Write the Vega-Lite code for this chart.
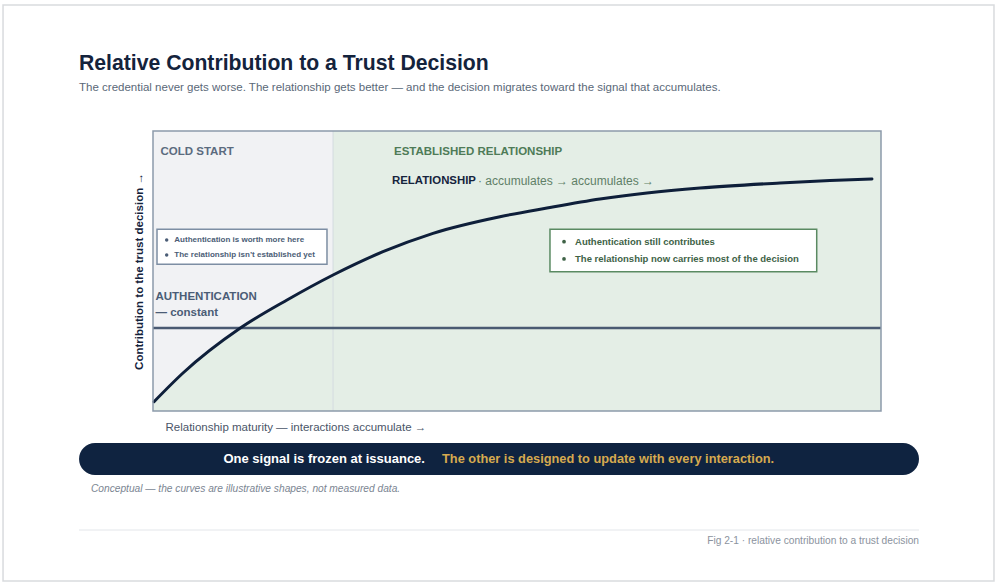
{
  "$schema": "https://vega.github.io/schema/vega-lite/v6.json",
  "width": 728,
  "height": 280,
  "autosize": {"type": "none"},
  "padding": {"left": 153, "top": 131, "right": 116, "bottom": 176},
  "background": "white",
  "config": {
    "font": "Liberation Sans",
    "view": {"stroke": null}
  },
  "encoding": {
    "x": {
      "field": "x",
      "type": "quantitative",
      "scale": {"domain": [0, 100], "nice": false, "zero": false},
      "axis": {
        "title": "Relationship maturity — interactions accumulate →",
        "domain": false, "ticks": false, "labels": false, "grid": false,
        "titleAnchor": "start", "titleAlign": "left", "titleX": 12,
        "titlePadding": 10, "titleFontSize": 11.5, "titleFontWeight": "normal",
        "titleColor": "#4a5568"
      }
    },
    "y": {
      "field": "y",
      "type": "quantitative",
      "scale": {"domain": [0, 100], "nice": false, "zero": false},
      "axis": {
        "title": "Contribution to the trust decision →",
        "domain": false, "ticks": false, "labels": false, "grid": false,
        "titlePadding": 9, "titleFontSize": 11.5, "titleFontWeight": "bold",
        "titleColor": "#14233c"
      }
    }
  },
  "layer": [
    {
      "data": {"values": [{"x": -20.6, "x2": 115.52, "y": 145, "y2": -60.71}]},
      "mark": {"type": "rect", "fillOpacity": 0, "stroke": "#d9dbde", "strokeWidth": 1.5},
      "encoding": {"x2": {"field": "x2"}, "y2": {"field": "y2"}}
    },
    {
      "data": {"values": [{"x": -10.16, "y": 123.9, "label": "Relative Contribution to a Trust Decision"}]},
      "mark": {"type": "text", "align": "left", "baseline": "middle", "fontSize": 21.2, "fontWeight": "bold", "color": "#14233c"},
      "encoding": {"text": {"field": "label"}}
    },
    {
      "data": {"values": [{"x": -10.16, "y": 115.2, "label": "The credential never gets worse. The relationship gets better — and the decision migrates toward the signal that accumulates."}]},
      "mark": {"type": "text", "align": "left", "baseline": "middle", "fontSize": 11.5, "color": "#5a6878"},
      "encoding": {"text": {"field": "label"}}
    },
    {
      "data": {"values": [
        {"zone": "cold", "x": 0, "x2": 24.73, "y": 0, "y2": 100},
        {"zone": "established", "x": 24.73, "x2": 100, "y": 0, "y2": 100}
      ]},
      "mark": {"type": "rect"},
      "encoding": {
        "x2": {"field": "x2"},
        "y2": {"field": "y2"},
        "color": {"field": "zone", "type": "nominal", "scale": {"domain": ["cold", "established"], "range": ["#f1f2f4", "#e4eee6"]}, "legend": null}
      }
    },
    {
      "data": {"name": "curve", "values": [
        {"x": 0.14, "y": 3.32}, {"x": 4.12, "y": 13.57}, {"x": 11.95, "y": 29.54},
        {"x": 18.41, "y": 39.64}, {"x": 24.73, "y": 48.57}, {"x": 31.59, "y": 56.89},
        {"x": 38.46, "y": 63.46}, {"x": 47.66, "y": 69.39}, {"x": 54.12, "y": 72.5},
        {"x": 61.4, "y": 75.71}, {"x": 67.86, "y": 77.86}, {"x": 75.14, "y": 79.64},
        {"x": 86.13, "y": 81.43}, {"x": 92.99, "y": 82.32}, {"x": 98.76, "y": 82.86}
      ]},
      "mark": {"type": "area", "interpolate": "monotone", "color": "#e4eee6"},
      "encoding": {"y2": {"datum": 0}}
    },
    {
      "data": {"values": [{"x": 24.73, "y": 0, "y2": 100}]},
      "mark": {"type": "rule", "color": "#d4dbe0", "strokeWidth": 1},
      "encoding": {"y2": {"field": "y2"}}
    },
    {
      "data": {"values": [{"x": 0, "x2": 100, "y": 29.6}]},
      "mark": {"type": "rule", "color": "#4a5a72", "strokeWidth": 2.5},
      "encoding": {"x2": {"field": "x2"}}
    },
    {
      "data": {"name": "curve"},
      "mark": {"type": "line", "interpolate": "monotone", "color": "#0e1f3a", "strokeWidth": 3, "strokeCap": "round"}
    },
    {
      "data": {"values": [{"x": 0, "x2": 100, "y": 0, "y2": 100}]},
      "mark": {"type": "rect", "fillOpacity": 0, "stroke": "#8c9aab", "strokeWidth": 1.5},
      "encoding": {"x2": {"field": "x2"}, "y2": {"field": "y2"}}
    },
    {
      "data": {"values": [{"x": 0.55, "x2": 23.9, "y": 64.9, "y2": 52.4}]},
      "mark": {"type": "rect", "fill": "white", "stroke": "#7d8ea3", "strokeWidth": 1.5},
      "encoding": {"x2": {"field": "x2"}, "y2": {"field": "y2"}}
    },
    {
      "data": {"values": [{"x": 54.53, "x2": 91.17, "y": 64.9, "y2": 49.75}]},
      "mark": {"type": "rect", "fill": "white", "stroke": "#5a8a62", "strokeWidth": 1.5},
      "encoding": {"x2": {"field": "x2"}, "y2": {"field": "y2"}}
    },
    {
      "data": {"values": [{"x": 1.88, "y": 61.07}, {"x": 1.88, "y": 55.71}]},
      "mark": {"type": "circle", "opacity": 1, "size": 12, "color": "#4b5d76"}
    },
    {
      "data": {"values": [{"x": 56.46, "y": 60.46}, {"x": 56.46, "y": 54.29}]},
      "mark": {"type": "circle", "opacity": 1, "size": 14, "color": "#3e6246"}
    },
    {
      "data": {"values": [
        {"x": 2.93, "y": 61.07, "label": "Authentication is worth more here"},
        {"x": 2.93, "y": 55.71, "label": "The relationship isn’t established yet"}
      ]},
      "mark": {"type": "text", "align": "left", "baseline": "middle", "fontSize": 8, "fontWeight": "bold", "color": "#4b5d76"},
      "encoding": {"text": {"field": "label"}}
    },
    {
      "data": {"values": [
        {"x": 57.97, "y": 60.46, "label": "Authentication still contributes"},
        {"x": 57.97, "y": 54.29, "label": "The relationship now carries most of the decision"}
      ]},
      "mark": {"type": "text", "align": "left", "baseline": "middle", "fontSize": 9.5, "fontWeight": "bold", "color": "#3e6246"},
      "encoding": {"text": {"field": "label"}}
    },
    {
      "data": {"values": [{"x": 1.03, "y": 92.6, "label": "COLD START"}]},
      "mark": {"type": "text", "align": "left", "baseline": "middle", "fontSize": 11.5, "fontWeight": "bold", "color": "#5b6b7e"},
      "encoding": {"text": {"field": "label"}}
    },
    {
      "data": {"values": [{"x": 33.1, "y": 92.6, "label": "ESTABLISHED RELATIONSHIP"}]},
      "mark": {"type": "text", "align": "left", "baseline": "middle", "fontSize": 11.5, "fontWeight": "bold", "color": "#4e7b57"},
      "encoding": {"text": {"field": "label"}}
    },
    {
      "data": {"values": [{"x": 32.83, "y": 82.14, "label": "RELATIONSHIP"}]},
      "mark": {"type": "text", "align": "left", "baseline": "middle", "fontSize": 11.4, "fontWeight": "bold", "color": "#16243d"},
      "encoding": {"text": {"field": "label"}}
    },
    {
      "data": {"values": [{"x": 44.64, "y": 82.14, "label": "· accumulates → accumulates →"}]},
      "mark": {"type": "text", "align": "left", "baseline": "middle", "fontSize": 12, "color": "#5f8066"},
      "encoding": {"text": {"field": "label"}}
    },
    {
      "data": {"values": [
        {"x": 0.34, "y": 40.54, "label": "AUTHENTICATION"},
        {"x": 0.34, "y": 35.1, "label": "— constant"}
      ]},
      "mark": {"type": "text", "align": "left", "baseline": "middle", "fontSize": 11.5, "fontWeight": "bold", "color": "#4b5d76"},
      "encoding": {"text": {"field": "label"}}
    },
    {
      "data": {"values": [{"x": -10.16, "x2": 105.22, "y": -11.43, "y2": -22.86}]},
      "mark": {"type": "rect", "fill": "#0f2340", "cornerRadius": 16},
      "encoding": {"x2": {"field": "x2"}, "y2": {"field": "y2"}}
    },
    {
      "data": {"values": [{"x": 37.36, "y": -17.3, "label": "One signal is frozen at issuance."}]},
      "mark": {"type": "text", "align": "right", "baseline": "middle", "fontSize": 13, "fontWeight": "bold", "color": "#ffffff"},
      "encoding": {"text": {"field": "label"}}
    },
    {
      "data": {"values": [{"x": 39.7, "y": -17.3, "label": "The other is designed to update with every interaction."}]},
      "mark": {"type": "text", "align": "left", "baseline": "middle", "fontSize": 12.8, "fontWeight": "bold", "color": "#d6aa4f"},
      "encoding": {"text": {"field": "label"}}
    },
    {
      "data": {"values": [{"x": -8.52, "y": -27.86, "label": "Conceptual — the curves are illustrative shapes, not measured data."}]},
      "mark": {"type": "text", "align": "left", "baseline": "middle", "fontSize": 10.2, "fontStyle": "italic", "color": "#7b8592"},
      "encoding": {"text": {"field": "label"}}
    },
    {
      "data": {"values": [{"x": -10.16, "x2": 105.22, "y": -42.5}]},
      "mark": {"type": "rule", "color": "#e3e6ea", "strokeWidth": 1},
      "encoding": {"x2": {"field": "x2"}}
    },
    {
      "data": {"values": [{"x": 105.22, "y": -46.6, "label": "Fig 2-1 · relative contribution to a trust decision"}]},
      "mark": {"type": "text", "align": "right", "baseline": "middle", "fontSize": 10.2, "color": "#8b939e"},
      "encoding": {"text": {"field": "label"}}
    }
  ]
}
